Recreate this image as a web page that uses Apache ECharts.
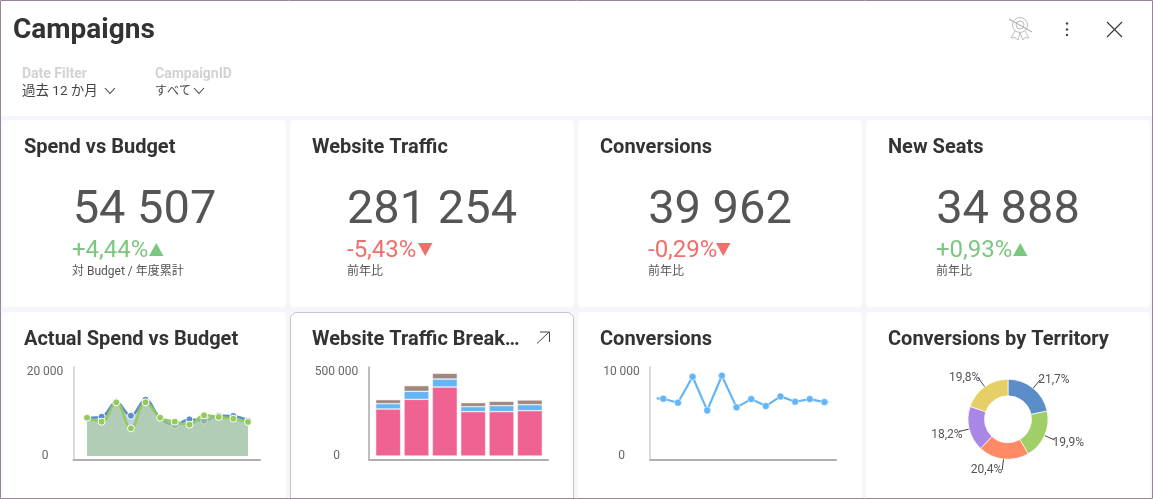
<!DOCTYPE html>
<html><head><meta charset="utf-8">
<style>html,body{margin:0;padding:0;background:#fff;overflow:hidden}#c{width:1153px;height:499px}</style>
<script src="https://cdn.jsdelivr.net/npm/echarts@6/dist/echarts.min.js"></script>
</head><body><div id="c"></div>
<script>
const FONT = 'Roboto, "Noto Sans CJK JP", sans-serif';
const spendActual = [9090,9320,12730,9560,13350,9010,7350,8700,8370,9560,9490,8370];
const spendBudget = [9090,8140,12730,6560,12730,9090,8140,7430,9650,9250,8850,8060];
const spendMonths = ['1','2','3','4','5','6','7','8','9','10','11','12'];
const trafficCats = ['a','b','c','d','e','f'];
const trafficPink = [278800,336100,409300,263000,263000,268900];
const trafficBlue = [31600,47400,47400,29700,35600,35600];
const trafficBrown = [23700,33600,33600,23700,25700,27700];
const conversions = [6790,6320,9400,5410,9520,5770,6750,5920,7070,6440,6750,6400];
const convLeadStub = [[-0.45,6830],[0,6790]];
const convTrailStub = [[11,6400],[11.43,6400]];
const territoryValues = [21.7,19.9,20.4,18.2,19.8];
const territoryColors = ['#5b8ec9','#a0cf67','#ff8a65','#a987e6','#e5cf66'];
const kpiTitles = ['Spend vs Budget','Website Traffic','Conversions','New Seats'];
const kpiValues = ['54 507','281 254','39 962','34 888'];
const kpiDeltas = ['+4,44%','-5,43%','-0,29%','+0,93%'];
const kpiNotes = ['対 Budget / 年度累計','前年比','前年比','前年比'];
const kpiDeltaX = [72,347,648,936];
const kpiCenters = [144.5,432,720,1008];
const chartTitles = ['Actual Spend vs Budget','Website Traffic Break…','Conversions','Conversions by Territory'];
const cardX = [2,290,578,866];
const GREEN='#7cc67f', RED='#ef6f6c';

const g = [];
g.push({type:'rect',z:0,shape:{x:0,y:116,width:1153,height:383},style:{fill:'#f5f5fa'}});
cardX.forEach((x,i)=>{
  g.push({type:'rect',z:1,shape:{x:x,y:120,width:284,height:187,r:4},style:{fill:'#fff'}});
  g.push({type:'rect',z:1,shape:{x:x,y:312,width:284,height:190,r:4},style:{fill:'#fff'}});
});
g.push({type:'rect',z:2,shape:{x:290.5,y:312.5,width:283,height:192,r:6},style:{fill:'none',stroke:'#c6c6ce',lineWidth:1}});
function txt(x,y,text,font,fill,align){g.push({type:'text',z:5,style:{x:x,y:y,text:text,font:font,fill:fill,align:align||'left',verticalAlign:'middle'}});}
txt(13,31,'Campaigns','700 28px '+FONT,'#333');
txt(22,74,'Date Filter','700 14px '+FONT,'#d2d2d2');
txt(155,74,'CampaignID','700 14px '+FONT,'#d2d2d2');
txt(22,92,'過去 12 か月','13.5px '+FONT,'#444');
txt(155,92,'すべて','12px '+FONT,'#444');
kpiTitles.forEach((t,i)=>{
  const x=cardX[i]+22;
  txt(x,148,t,'700 20px '+FONT,'#333');
  txt(kpiCenters[i],211,kpiValues[i],'47px '+FONT,'#555','center');
  const up=kpiDeltas[i][0]==='+', col=up?GREEN:RED, dx=kpiDeltaX[i];
  txt(dx,251,kpiDeltas[i],'24px '+FONT,col);
  const w={0:75,1:69,2:66,3:75}[i], tx=dx+w+2;
  g.push({type:'polygon',z:5,shape:{points:up?[[tx,256],[tx+14.5,256],[tx+7.25,243]]:[[tx,243],[tx+14.5,243],[tx+7.25,256]]},style:{fill:col}});
  txt(dx,272,kpiNotes[i],'12px '+FONT,'#555');
  txt(x,340,chartTitles[i],'700 20px '+FONT,'#333');
});
function line(pts,stroke,lw){g.push({type:'polyline',z:6,shape:{points:pts},style:{fill:'none',stroke:stroke,lineWidth:lw||1}});}
line([[105,88],[110,93.5],[115,88]],'#444',1.1);
line([[194,88],[199,93.5],[204,88]],'#444',1.1);
line([[1107,22],[1122,37]],'#333',1.1);
line([[1122,22],[1107,37]],'#333',1.1);
[23.5,29.5,35].forEach(y=>g.push({type:'circle',z:6,shape:{cx:1067,cy:y,r:1.2},style:{fill:'#444'}}));
g.push({type:'circle',z:6,shape:{cx:1020,cy:25,r:7.5},style:{fill:'none',stroke:'#bdbdbd',lineWidth:1}});
g.push({type:'circle',z:6,shape:{cx:1020,cy:25,r:4},style:{fill:'none',stroke:'#bdbdbd',lineWidth:1}});
line([[1015,31],[1011,38],[1015,37.5],[1018,40],[1020,33],[1023,40],[1025,37.5],[1029,38],[1025,31]],'#bdbdbd',1);
line([[1009,19],[1032,32]],'#b0b0b0',1.1);
line([[537,343.5],[549,332]],'#444',1);
line([[540,332],[549.5,332],[549.5,342]],'#444',1);
g.push({type:'rect',z:20,shape:{x:0.5,y:0.5,width:1152,height:498},style:{fill:'none',stroke:'#9b8499',lineWidth:1}});

const frames=[[73.5,260,'#cfcfcf'],[369,548,'#a8a8a8'],[650,836,'#cfcfcf']];
const grid=[],xAxis=[],yAxis=[];
frames.forEach(f=>{
  const idx=grid.length;
  grid.push({left:f[0],width:f[1]-f[0],top:367,height:92.5});
  xAxis.push({gridIndex:idx,type:'value',z:3,min:0,max:1,splitLine:{show:false},axisTick:{show:false},axisLabel:{show:false},axisLine:{show:true,onZero:false,lineStyle:{color:'#b0b0b0',width:2}}});
  yAxis.push({gridIndex:idx,type:'value',z:3,min:0,max:1,splitLine:{show:false},axisTick:{show:false},axisLabel:{show:false},axisLine:{show:true,onZero:false,lineStyle:{color:f[2],width:1.5}}});
});
function fmt(v){return String(v).replace(/\B(?=(\d{3})+$)/g,' ');}
function dataY(idx,max,margin){return {gridIndex:idx,type:'value',z:3,min:0,max:max,interval:max,splitLine:{show:false},axisTick:{show:false},axisLine:{show:false},
  axisLabel:{margin:margin,align:'center',color:'#666',fontSize:12,fontFamily:FONT,padding:[4,0,0,0],formatter:fmt}};}
function hiddenCat(idx,data,gap){return {gridIndex:idx,type:'category',data:data,boundaryGap:gap,show:false};}
grid.push({left:87,width:161,top:371.7,height:84.3});
xAxis.push(hiddenCat(3,spendMonths,false)); yAxis.push(dataY(3,20000,42));
grid.push({left:374,width:170,top:371.7,height:84.3});
xAxis.push(hiddenCat(4,trafficCats,true)); yAxis.push(dataY(4,500000,37.5));
grid.push({left:650,width:186,top:371.7,height:84.3});
xAxis.push({gridIndex:5,type:'value',min:-0.907,max:11.79,show:false}); yAxis.push(dataY(5,10000,28.5));

function areaSeries(name,data,color,areaCol,op,z){
  return {type:'line',name:name,xAxisIndex:3,yAxisIndex:3,data:data,smooth:0.4,z:z,symbol:'circle',symbolSize:7,showSymbol:true,
    lineStyle:{color:color,width:2.5},itemStyle:{color:color,borderColor:'#fff',borderWidth:1},areaStyle:{color:areaCol,opacity:op},animation:false};
}
function barSeries(name,data,color){
  return {type:'bar',name:name,stack:'t',xAxisIndex:4,yAxisIndex:4,data:data,barCategoryGap:'12%',itemStyle:{color:color,borderColor:'#fff',borderWidth:0.5},animation:false};
}
const blue='#64b5f6';
const toXY=a=>a.map((v,i)=>[i,v]);
const labelDx=[0,0,-2,2,0], labelDy=[0,3,0,3,0];
const series=[
  areaSeries('Actual',spendActual,'#5b8ec9','#5b8ec9',0.42,3),
  areaSeries('Budget',spendBudget,'#94c95e','#adcb93',0.6,4),
  barSeries('p',trafficPink,'#f06292'),
  barSeries('b',trafficBlue,'#64b5f6'),
  barSeries('r',trafficBrown,'#a1887f'),
  {type:'line',xAxisIndex:5,yAxisIndex:5,data:toXY(conversions),symbol:'circle',symbolSize:7,lineStyle:{color:blue,width:2.2},itemStyle:{color:blue,borderColor:'#fff',borderWidth:0.5},animation:false},
  {type:'line',xAxisIndex:5,yAxisIndex:5,data:convLeadStub,symbol:'none',lineStyle:{color:blue,width:2.2,type:[4,2]},animation:false},
  {type:'line',xAxisIndex:5,yAxisIndex:5,data:convTrailStub,symbol:'none',lineStyle:{color:blue,width:2.2,type:[4,2]},animation:false},
  {type:'pie',center:[1008,419.3],radius:[23.5,40],startAngle:90,clockwise:true,animation:false,
    data:territoryValues.map((v,i)=>({value:v,itemStyle:{color:territoryColors[i]}})),
    itemStyle:{borderColor:'#fff',borderWidth:0.7},
    label:{show:true,formatter:p=>p.value.toFixed(1).replace('.',',')+'%',color:'#555',fontSize:12,fontFamily:FONT,distanceToLabelLine:-2},
    labelLine:{show:true,length:11,length2:0,lineStyle:{color:'#444',width:1}},
    labelLayout:p=>({dx:labelDx[p.dataIndex],dy:labelDy[p.dataIndex]})}
];
const chart=echarts.init(document.getElementById('c'),null,{renderer:'canvas',width:1153,height:499});
chart.setOption({animation:false,backgroundColor:'#fff',grid:grid,xAxis:xAxis,yAxis:yAxis,series:series,graphic:{elements:g}});
</script></body></html>
